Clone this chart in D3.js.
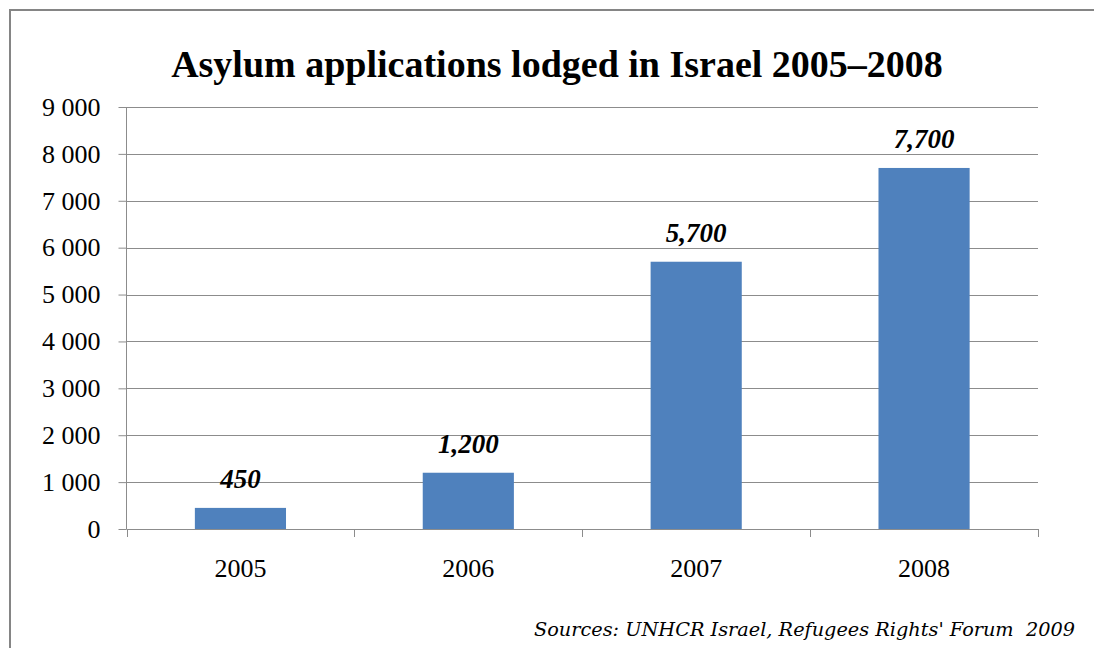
<html>
<head>
    <script src="https://d3js.org/d3.v7.min.js"></script>
</head>
<body style="margin:0;background:white">
    <svg></svg>
    <script>
        // data
        const years = ["2005", "2006", "2007", "2008"]
        const applications = [450, 1200, 5700, 7700]
        const valueLabels = ["450", "1,200", "5,700", "7,700"]
        const yTickValues = [0, 1000, 2000, 3000, 4000, 5000, 6000, 7000, 8000, 9000]
        const title = "Asylum applications lodged in Israel 2005\u20132008"
        const source = "Sources: UNHCR Israel, Refugees Rights' Forum  2009"

        const width = 1094
        const height = 648
        const marginLeft = 126.5
        const marginRight = 56
        const marginTop = 107
        const marginBottom = 119
        const gridColor = "#8c8c8c"
        const barColor = "#4f81bd"
        const serif = "Liberation Serif"

        const svg = d3.select("svg")
            .attr("width", width)
            .attr("height", height)
            .attr("viewBox", [0, 0, width, height])

        // outer frame (left and top edges only are visible)
        svg.append("path")
            .attr("d", `M10,${height} L10,10 L${width},10`)
            .attr("fill", "none")
            .attr("stroke", "#858585")
            .attr("stroke-width", 2)

        const xScale = d3.scaleBand()
            .domain(years)
            .range([marginLeft, width - marginRight])
            .paddingInner(0.6)
            .paddingOuter(0.3)
        const yScale = d3.scaleLinear([0, 9000], [height - marginBottom, marginTop])

        // horizontal grid lines
        svg.append("g")
            .selectAll("line")
            .data(yTickValues.filter(d => d > 0))
            .join("line")
            .attr("x1", marginLeft)
            .attr("x2", width - marginRight)
            .attr("y1", d => Math.round(yScale(d)) + 0.5)
            .attr("y2", d => Math.round(yScale(d)) + 0.5)
            .attr("stroke", gridColor)

        // y axis
        svg.append("g")
            .attr("transform", `translate(${marginLeft},0)`)
            .call(d3.axisLeft(yScale).tickValues(yTickValues).tickSize(8).tickPadding(18)
                .tickFormat(d => d3.format(",")(d).replace(/,/g, " ")))
            .attr("font-family", serif)
            .attr("font-size", 26)
            .call(g => g.selectAll("line,path").attr("stroke", gridColor))
            .call(g => g.selectAll("text").attr("fill", "#000"))
            .call(g => g.select(".domain").attr("d", `M0,${yScale(0)}V${yScale(9000)}`))

        // bars
        svg.append("g")
            .selectAll("rect")
            .data(years)
            .join("rect")
            .attr("x", d => xScale(d))
            .attr("width", xScale.bandwidth())
            .attr("y", (d, i) => yScale(applications[i]))
            .attr("height", (d, i) => yScale(0) - yScale(applications[i]))
            .attr("fill", barColor)

        // x axis with ticks between categories
        const step = xScale.step()
        const xAxis = svg.append("g")
        xAxis.append("line")
            .attr("x1", marginLeft)
            .attr("x2", width - marginRight)
            .attr("y1", yScale(0) + 0.5)
            .attr("y2", yScale(0) + 0.5)
            .attr("stroke", gridColor)
        xAxis.selectAll(".sep")
            .data(d3.range(years.length + 1))
            .join("line")
            .attr("class", "sep")
            .attr("x1", i => Math.round(marginLeft + i * step) + 0.5)
            .attr("x2", i => Math.round(marginLeft + i * step) + 0.5)
            .attr("y1", yScale(0))
            .attr("y2", yScale(0) + 8)
            .attr("stroke", gridColor)
        xAxis.selectAll("text")
            .data(years)
            .join("text")
            .attr("x", d => xScale(d) + xScale.bandwidth() / 2)
            .attr("y", yScale(0) + 48)
            .attr("text-anchor", "middle")
            .attr("font-family", serif)
            .attr("font-size", 26)
            .text(d => d)

        // value labels
        svg.append("g")
            .selectAll("text")
            .data(years)
            .join("text")
            .attr("x", d => xScale(d) + xScale.bandwidth() / 2)
            .attr("y", (d, i) => yScale(applications[i]) - 20)
            .attr("text-anchor", "middle")
            .attr("font-family", serif)
            .attr("font-size", 27)
            .attr("font-weight", "bold")
            .attr("font-style", "italic")
            .text((d, i) => valueLabels[i])

        // title
        svg.append("text")
            .attr("x", 557)
            .attr("y", 77)
            .attr("text-anchor", "middle")
            .attr("font-family", serif)
            .attr("font-size", 38)
            .attr("font-weight", "bold")
            .text(title)

        // source
        svg.append("text")
            .attr("x", 1075)
            .attr("y", 636)
            .attr("text-anchor", "end")
            .attr("font-family", "DejaVu Serif")
            .attr("font-size", 19.3)
            .attr("font-style", "italic")
            .style("white-space", "pre")
            .text(source)
    </script>
</body>
</html>
